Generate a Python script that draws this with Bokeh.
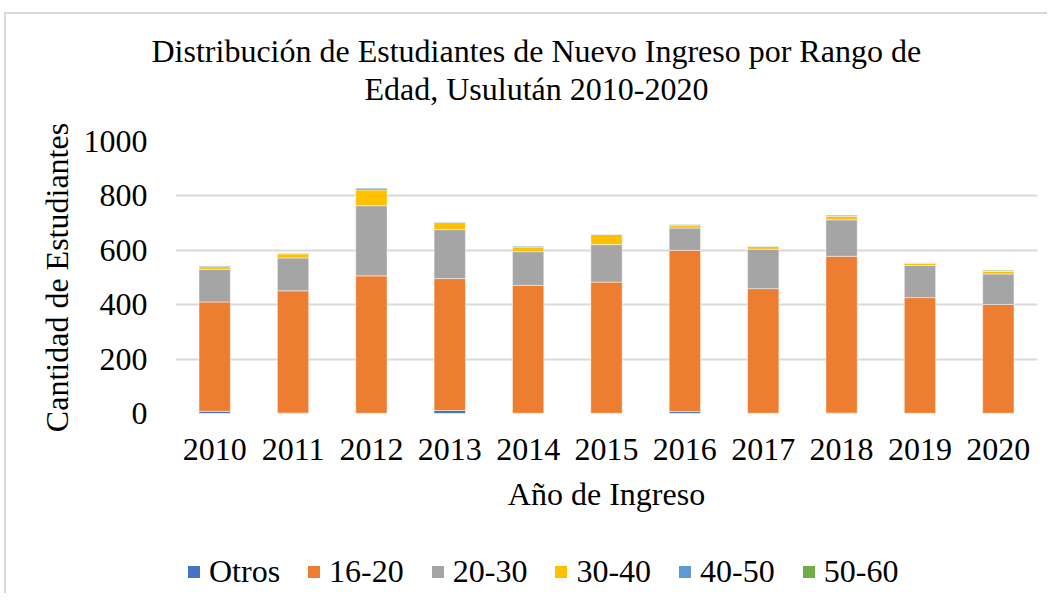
from bokeh.plotting import figure
from bokeh.layouts import column
from bokeh.models import FactorRange, Range1d, Title, Legend, LegendItem, SingleIntervalTicker, ColumnDataSource
from bokeh.embed import file_html
from bokeh.resources import INLINE

years = ["2010", "2011", "2012", "2013", "2014", "2015", "2016", "2017", "2018", "2019", "2020"]
otros = [8, 2, 1, 11, 1, 1, 7, 1, 2, 1, 1]
r16_20 = [402, 449, 505, 485, 470, 482, 593, 458, 576, 425, 400]
r20_30 = [120, 121, 258, 180, 124, 138, 82, 145, 134, 118, 112]
r30_40 = [10, 15, 58, 26, 17, 37, 10, 10, 13, 9, 10]
r40_50 = [4, 3, 7, 3, 4, 2, 4, 2, 5, 1, 1]
r50_60 = [0, 0, 0, 0, 0, 0, 0, 0, 0, 0, 3]

series_names = ["Otros", "16-20", "20-30", "30-40", "40-50", "50-60"]
colors = ["#4472C4", "#ED7D31", "#A5A5A5", "#FFC000", "#5B9BD5", "#70AD47"]
title_lines = ["Distribución de Estudiantes de Nuevo Ingreso por Rango de",
               "Edad, Usulután 2010-2020"]

FONT = "Liberation Serif"

data = dict(years=years, Otros=otros, **{"16-20": r16_20, "20-30": r20_30,
                                         "30-40": r30_40, "40-50": r40_50, "50-60": r50_60})
source = ColumnDataSource(data)

p = figure(x_range=FactorRange(*years, range_padding=0), y_range=Range1d(0, 1000),
           frame_width=862, frame_height=272,
           min_border_left=169, min_border_right=10, min_border_top=127, min_border_bottom=120,
           output_backend="svg", toolbar_location=None)

p.vbar_stack(series_names, x="years", width=0.4, color=colors, source=source,
             line_color="white", line_width=0.8, line_alpha=0.6)

# Title: spacer next to the frame, then line 2, then line 1 (p.title, outermost)
spacer = Title(text=" ", text_font_size="1px", standoff=32)
p.add_layout(spacer, "above")
line2 = Title(text=title_lines[1], text_font=FONT, text_font_size="32px", text_font_style="normal",
              text_color="black", align="left", offset=189, standoff=0)
p.add_layout(line2, "above")
p.title.text = title_lines[0]
p.title.text_font = FONT
p.title.text_font_size = "32px"
p.title.text_font_style = "normal"
p.title.text_color = "black"
p.title.align = "left"
p.title.offset = -24
p.title.standoff = 0

# Axes
p.yaxis.ticker = SingleIntervalTicker(interval=200)
for ax in (p.xaxis[0], p.yaxis[0]):
    ax.major_label_text_font = FONT
    ax.major_label_text_font_size = "32px"
    ax.major_label_text_color = "black"
    ax.axis_label_text_font = FONT
    ax.axis_label_text_font_size = "32px"
    ax.axis_label_text_font_style = "normal"
    ax.axis_label_text_color = "black"
    ax.axis_line_color = None
    ax.major_tick_line_color = None
    ax.minor_tick_line_color = None
    ax.major_tick_out = 0
    ax.major_tick_in = 0

p.yaxis.axis_label = "Cantidad de Estudiantes"
p.yaxis.major_label_standoff = 24
p.yaxis.axis_label_standoff = 6
p.xaxis.axis_label = "Año de Ingreso"
p.xaxis.major_label_standoff = 25
p.xaxis.axis_label_standoff = 13

p.xgrid.grid_line_color = None
p.ygrid.grid_line_color = "#D9D9D9"
p.ygrid.grid_line_width = 2
p.outline_line_color = None

# Legend strip below the chart (its own small figure; the stacked bars there lie out of view)
lg = figure(x_range=FactorRange(*years, range_padding=0), y_range=Range1d(5000, 6000),
            frame_width=1041, frame_height=60, min_border=0,
            x_axis_location=None, y_axis_location=None,
            output_backend="svg", toolbar_location=None)
lg.xgrid.grid_line_color = None
lg.ygrid.grid_line_color = None
lg.outline_line_color = None
lg_renderers = lg.vbar_stack(series_names, x="years", width=0.4, color=colors,
                             source=ColumnDataSource(data), line_color=None)
legend = Legend(items=[LegendItem(label=n, renderers=[r]) for n, r in zip(series_names, lg_renderers)],
                orientation="horizontal", location=(180, 3),
                label_text_font=FONT, label_text_font_size="32px", label_text_color="black",
                glyph_width=15, glyph_height=15, label_standoff=8, spacing=26, label_height=36,
                padding=0, margin=0, border_line_color=None, background_fill_alpha=0)
lg.add_layout(legend, "center")

root = column(p, lg, spacing=0)
root.styles = {"border-left": "2px solid #D9D9D9", "border-top": "2px solid #D9D9D9",
               "margin-left": "4px", "margin-top": "12px"}

open("out.html", "w").write(file_html(root, INLINE))
